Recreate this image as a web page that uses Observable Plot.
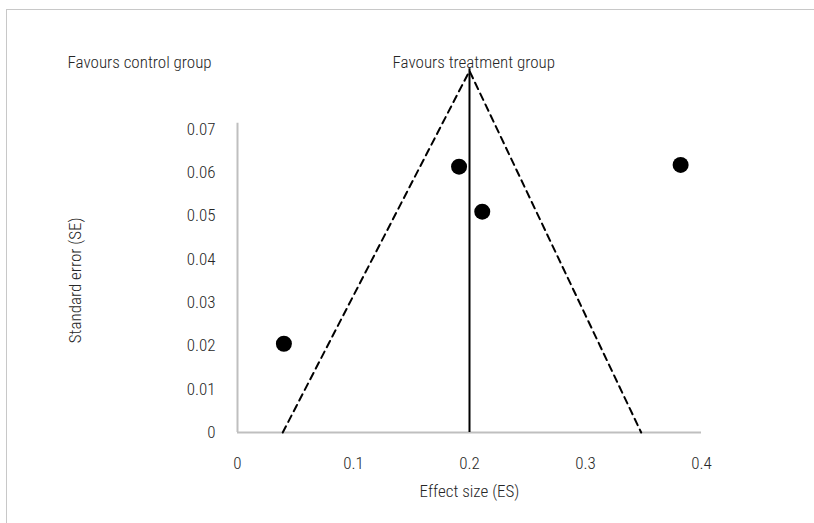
<!DOCTYPE html>
<html>
<head>
<meta charset="utf-8">
<script src="https://cdn.jsdelivr.net/npm/d3@7"></script>
<script src="https://cdn.jsdelivr.net/npm/@observablehq/plot@0.6"></script>
<style>
  html, body { margin: 0; padding: 0; background: #fff; }
  #wrap { position: relative; width: 814px; height: 523px; overflow: hidden; }
  #frame { position: absolute; left: 6px; top: 9px; width: 900px; height: 600px;
           border-top: 1px solid #c8c8c8; border-left: 1px solid #c8c8c8; }
  #chart { position: absolute; left: 0; top: 0; }
  #chart svg text { font-stretch: condensed; font-weight: 300; }
</style>
</head>
<body>
<div id="wrap"><div id="frame"></div><div id="chart"></div></div>
<script>
// Studies: effect size (x) and standard error (y)
const effectSize = [0.04, 0.191, 0.211, 0.382];
const standardError = [0.0205, 0.0614, 0.051, 0.0618];

// Funnel reference lines
const pooledEffect = 0.2;
const pooledLineTopSE = 0.084;
const funnelApexSE = 0.0835;
const funnelLeftBase = 0.039;
const funnelRightBase = 0.348;

// Axes
const xTicks = [0, 0.1, 0.2, 0.3, 0.4];
const xTickLabels = ["0", "0.1", "0.2", "0.3", "0.4"];
const yTicks = [0, 0.01, 0.02, 0.03, 0.04, 0.05, 0.06, 0.07];
const yTickLabels = ["0", "0.01", "0.02", "0.03", "0.04", "0.05", "0.06", "0.07"];
const yAxisTop = 0.0714;
const xTitle = "Effect size (ES)";
const yTitle = "Standard error (SE)";
const leftNote = "Favours control group";
const rightNote = "Favours treatment group";

const points = effectSize.map((e, i) => ({es: e, se: standardError[i]}));
const funnel = [
  {es: funnelLeftBase, se: 0},
  {es: pooledEffect, se: funnelApexSE},
  {es: funnelRightBase, se: 0}
];

const textColor = "#262626";
const axisColor = "#bfbfbf";

const chart = Plot.plot({
  width: 814,
  height: 523,
  marginLeft: 237,
  marginRight: 113,
  marginTop: 85.6,
  marginBottom: 91,
  x: {domain: [0, 0.4], axis: null},
  y: {domain: [0, 0.08], axis: null},
  style: {
    fontFamily: "'Roboto Condensed', 'Liberation Sans Narrow', 'DejaVu Sans Condensed', 'DejaVu Sans', sans-serif",
    fontSize: "17px",
    background: "transparent",
    overflow: "visible"
  },
  marks: [
    // axis lines
    Plot.ruleY([0], {x1: 0, x2: 0.4, stroke: axisColor, strokeWidth: 2}),
    Plot.ruleX([0], {y1: 0, y2: yAxisTop, stroke: axisColor, strokeWidth: 2}),
    // tick labels
    Plot.text(xTicks, {x: d => d, y: () => 0, text: (d, i) => xTickLabels[i], dy: 31, fill: textColor}),
    Plot.text(yTicks, {x: () => 0, y: d => d, text: (d, i) => yTickLabels[i], textAnchor: "end", dx: -22, fill: textColor}),
    // funnel
    Plot.line(funnel, {x: "es", y: "se", stroke: "#000", strokeWidth: 2, strokeDasharray: "7,5"}),
    Plot.ruleX([pooledEffect], {y1: 0, y2: pooledLineTopSE, stroke: "#000", strokeWidth: 2}),
    // studies
    Plot.dot(points, {x: "es", y: "se", r: 8, fill: "#000", stroke: "none"}),
    // titles
    Plot.text([xTitle], {frameAnchor: "bottom", text: d => d, dy: 64, fill: textColor}),
    Plot.text([yTitle], {frameAnchor: "left", text: d => d, dx: -162, dy: 84, rotate: -90, fill: textColor}),
    Plot.text([leftNote], {frameAnchor: "top-left", text: d => d, dx: -170, dy: -30.6, textAnchor: "start", fill: textColor}),
    Plot.text([rightNote], {frameAnchor: "top-left", text: d => d, dx: 155, dy: -30.6, textAnchor: "start", fill: textColor})
  ]
});
document.getElementById("chart").appendChild(chart);
</script>
</body>
</html>
